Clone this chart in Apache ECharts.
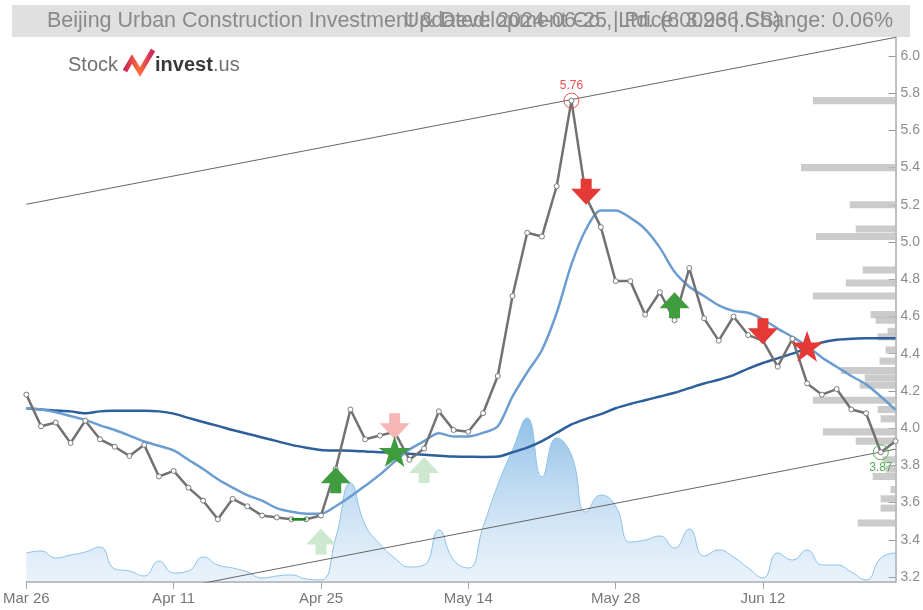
<!DOCTYPE html>
<html><head><meta charset="utf-8">
<script src="https://cdn.jsdelivr.net/npm/echarts@6/dist/echarts.min.js"></script>
<style>html,body{margin:0;padding:0;background:#fff}#c{width:923px;height:610px}</style>
</head><body><div id="c"></div>
<script>
const titleLeft = 'Beijing Urban Construction Investment & Development Co., Ltd. (600266.SS)';
const titleRight = 'Updated: 2024-06-25 | Price: 3.93 | Change: 0.06%';

const dates = ['Mar 26','Mar 27','Mar 28','Mar 29','Apr 1','Apr 2','Apr 3','Apr 8','Apr 9','Apr 10','Apr 11','Apr 12','Apr 15','Apr 16','Apr 17','Apr 18','Apr 19','Apr 22','Apr 23','Apr 24','Apr 25','Apr 26','Apr 29','Apr 30','May 6','May 7','May 8','May 9','May 10','May 13','May 14','May 15','May 16','May 17','May 20','May 21','May 22','May 23','May 24','May 27','May 28','May 29','May 30','May 31','Jun 3','Jun 4','Jun 5','Jun 6','Jun 7','Jun 11','Jun 12','Jun 13','Jun 14','Jun 17','Jun 18','Jun 19','Jun 20','Jun 21','Jun 24','Jun 25'];

const price = [4.18,4.01,4.03,3.92,4.04,3.94,3.90,3.85,3.91,3.74,3.77,3.68,3.61,3.51,3.62,3.58,3.53,3.52,3.51,3.51,3.53,3.78,4.10,3.94,3.96,3.98,3.83,3.89,4.09,3.99,3.98,4.08,4.28,4.71,5.05,5.03,5.30,5.76,5.24,5.08,4.79,4.79,4.61,4.73,4.58,4.86,4.59,4.47,4.60,4.50,4.47,4.33,4.48,4.24,4.18,4.21,4.10,4.08,3.87,3.93];

const maShort = [4.107,4.10,4.085,4.065,4.044,4.015,3.99,3.96,3.928,3.905,3.88,3.83,3.78,3.725,3.68,3.64,3.61,3.57,3.55,3.54,3.54,3.58,3.632,3.69,3.75,3.82,3.885,3.93,3.972,3.955,3.955,3.975,4.01,4.17,4.30,4.42,4.62,4.88,5.07,5.17,5.17,5.13,5.07,4.97,4.84,4.76,4.71,4.66,4.63,4.62,4.585,4.535,4.49,4.44,4.38,4.33,4.28,4.235,4.17,4.098];

const maLong = [4.107,4.10,4.095,4.09,4.08,4.09,4.093,4.094,4.094,4.09,4.078,4.055,4.033,4.012,3.99,3.97,3.95,3.93,3.91,3.895,3.883,3.88,3.879,3.875,3.87,3.868,3.862,3.857,3.852,3.847,3.846,3.845,3.847,3.87,3.895,3.93,3.975,4.02,4.05,4.075,4.107,4.13,4.15,4.17,4.19,4.215,4.24,4.26,4.285,4.32,4.35,4.375,4.40,4.43,4.46,4.475,4.48,4.483,4.483,4.483];

const volume = [2.9,3.1,2.4,2.7,3.0,3.5,1.3,1.1,0.6,2.1,0.9,1.1,2.5,1.7,1.4,1.0,0.4,0.6,0.7,0.3,0.2,4.4,9.9,5.7,3.8,2.4,1.5,1.7,5.2,2.2,1.4,5.5,9.7,13.2,16.4,10.5,14.4,12.7,7.0,8.7,7.6,4.0,4.2,4.6,3.4,5.3,2.6,3.2,2.5,1.4,0.4,2.9,2.2,3.2,1.7,1.7,1.0,0.2,2.4,2.9];

const upperTrend = [[0, 5.203], [59, 6.100]];
const lowerTrend = [[0, 2.983], [59, 3.887]];
const greenSegment = [[18, 3.51], [19, 3.51]];

const buyArrows = [[21, 3.72], [44, 4.66]];
const buyArrowsFaded = [[20, 3.39], [27, 3.775]];
const sellArrows = [[38, 5.27], [50, 4.52]];
const sellArrowsFaded = [[25, 4.01]];
const buyStars = [[25, 3.874]];
const sellStars = [[53, 4.44]];
const peakPoint = [[37, 5.76]];
const lowPoint = [[58, 3.87]];

const profilePrices = [5.76,5.40,5.20,5.07,5.03,4.85,4.78,4.71,4.61,4.58,4.52,4.49,4.42,4.36,4.31,4.27,4.23,4.15,4.10,4.05,3.98,3.93,3.83,3.78,3.74,3.67,3.62,3.57,3.49];
const profileVols = [83,95,46,40,80,33,50,83,25,20,8,18,10,16,55,31,36,83,18,15,73,40,13,10,23,5,15,15,38];

const yTicks = ['3.2','3.4','3.6','3.8','4.0','4.2','4.4','4.6','4.8','5.0','5.2','5.4','5.6','5.8','6.0'];

const upPath = 'path://M15 0 L30 16 L20.5 16 L20.5 26 L9.5 26 L9.5 16 L0 16 Z';
const downPath = 'path://M9.5 0 L20.5 0 L20.5 10 L30 10 L15 26 L0 10 L9.5 10 Z';
const starPath = 'path://M50 0 L61.8 34.5 L97.6 34.5 L68.5 55.9 L79.4 90.5 L50 69.1 L20.6 90.5 L31.5 55.9 L2.4 34.5 L38.2 34.5 Z';

const FONT = '"Liberation Sans", Arial, sans-serif';
const chart = echarts.init(document.getElementById('c'), null, {renderer: 'canvas'});

function sig(data, symbol, size, color, z) {
  return {type: 'scatter', data: data, symbol: symbol, symbolSize: size, z: z,
    itemStyle: {color: color, opacity: 1}, silent: true, animation: false};
}

const option = {
  animation: false,
  backgroundColor: '#fff',
  grid: {left: 24, right: 25, top: 37, bottom: 28},
  graphic: [
    {type: 'rect', shape: {x: 12, y: 5, width: 898, height: 32}, style: {fill: '#e0e0e0'}, z: -1},
    {type: 'text', style: {text: titleLeft, x: 47, y: 21, textVerticalAlign: 'middle', font: '21.5px ' + FONT, fill: '#8a8a8a'}},
    {type: 'text', style: {text: titleRight, x: 893, y: 21, textAlign: 'right', textVerticalAlign: 'middle', font: '21.5px ' + FONT, fill: '#8a8a8a'}},
    {type: 'text', style: {text: 'Stock', x: 68, y: 65, textVerticalAlign: 'middle', font: '20px ' + FONT, fill: '#707070'}},
    {type: 'polyline', shape: {points: [[125, 71], [132, 59], [140, 72], [153, 50]]},
      style: {lineWidth: 5, lineJoin: 'miter', stroke: new echarts.graphic.LinearGradient(0, 0, 1, 0, [
        {offset: 0, color: '#c2185b'}, {offset: 0.5, color: '#ff6d3a'}, {offset: 1, color: '#c2186b'}])}},
    {type: 'text', style: {text: 'invest', x: 155, y: 65, textVerticalAlign: 'middle', font: 'bold 20px ' + FONT, fill: '#3a3a3a'}},
    {type: 'text', style: {text: '.us', x: 213, y: 65, textVerticalAlign: 'middle', font: '20px ' + FONT, fill: '#707070'}}
  ],
  xAxis: [
    {type: 'category', data: dates, boundaryGap: false,
      axisLine: {lineStyle: {color: '#a8a8a8', width: 1.5}},
      axisTick: {interval: 9, length: 7, lineStyle: {color: '#a8a8a8'}},
      axisLabel: {interval: 9, fontSize: 15, color: '#777', margin: 9, fontFamily: FONT},
      splitLine: {show: false}},
    {type: 'value', gridIndex: 0, inverse: true, min: 0, max: 874, show: false}
  ],
  yAxis: [
    {type: 'value', position: 'right', min: 3.173, max: 6.102, scale: true,
      axisLine: {show: true, lineStyle: {color: '#a8a8a8', width: 1.5}},
      axisTick: {show: true, inside: true, length: 7, lineStyle: {color: '#999'}, customValues: yTicks.map(Number)},
      axisLabel: {fontSize: 14, color: '#8c8c8c', margin: 5, fontFamily: FONT, customValues: yTicks.map(Number),
        formatter: v => v.toFixed(1)},
      splitLine: {show: false}},
    {type: 'value', min: 0, max: 54.5, show: false}
  ],
  series: [
    {type: 'line', name: 'volume', xAxisIndex: 0, yAxisIndex: 1, data: volume, smooth: 0.5, symbol: 'none', z: 1,
      lineStyle: {color: '#8cc2ea', width: 1},
      areaStyle: {color: new echarts.graphic.LinearGradient(0, 0, 0, 1, [
        {offset: 0, color: 'rgba(70,150,215,0.85)'}, {offset: 1, color: 'rgba(170,205,238,0.35)'}])}},
    {type: 'custom', name: 'profile', xAxisIndex: 1, yAxisIndex: 0, z: 2,
      data: profilePrices.map((p, i) => [profileVols[i], p]),
      renderItem: function (params, api) {
        const v = api.value(0), p = api.value(1);
        const s = api.coord([v, p]);
        const e = api.coord([0, p]);
        const h = api.size([0, 0.038])[1];
        return {type: 'rect', shape: {x: s[0], y: s[1] - h / 2, width: e[0] - s[0], height: h},
          style: {fill: 'rgba(190,190,190,0.8)'}};
      }},
    {type: 'line', data: upperTrend, symbol: 'none', z: 3, lineStyle: {color: '#666', width: 1}},
    {type: 'line', data: lowerTrend, symbol: 'none', z: 3, lineStyle: {color: '#666', width: 1}},
    {type: 'line', data: maLong, smooth: 0.3, symbol: 'none', z: 4, lineStyle: {color: '#2d5f9c', width: 2.5}},
    {type: 'line', data: maShort, smooth: 0.3, symbol: 'none', z: 4, lineStyle: {color: '#6c9dd1', width: 2.5}},
    {type: 'line', data: price, symbol: 'circle', symbolSize: 5, z: 5,
      lineStyle: {color: '#727272', width: 2.5},
      itemStyle: {color: '#fff', borderColor: '#7a7a7a', borderWidth: 1}},
    {type: 'line', data: greenSegment, symbol: 'none', z: 6, lineStyle: {color: '#1e8a1e', width: 2.5}},
    sig(buyArrowsFaded, upPath, [30, 26], '#cde8cf', 7),
    sig(sellArrowsFaded, downPath, [30, 26], '#f6b6b6', 7),
    sig(buyArrows, upPath, [30, 26], '#3f9c3f', 8),
    sig(sellArrows, downPath, [30, 26], '#e53935', 8),
    sig(buyStars, starPath, [32, 31], '#3f9c3f', 8),
    sig(sellStars, starPath, [32, 31], '#e53935', 8),
    {type: 'scatter', data: peakPoint, symbol: 'circle', symbolSize: 15, z: 9,
      itemStyle: {color: 'rgba(0,0,0,0)', borderColor: '#e8504f', borderWidth: 1, opacity: 1},
      label: {show: true, position: 'top', distance: 1, formatter: p => p.value[1].toFixed(2), color: '#e8504f', fontSize: 12, fontFamily: FONT}},
    {type: 'scatter', data: lowPoint, symbol: 'circle', symbolSize: 15, z: 9,
      itemStyle: {color: 'rgba(0,0,0,0)', borderColor: '#55b055', borderWidth: 1, opacity: 1},
      label: {show: true, position: 'bottom', distance: 1, formatter: p => p.value[1].toFixed(2), color: '#55b055', fontSize: 12, fontFamily: FONT}}
  ]
};
chart.setOption(option);
</script>
</body></html>
